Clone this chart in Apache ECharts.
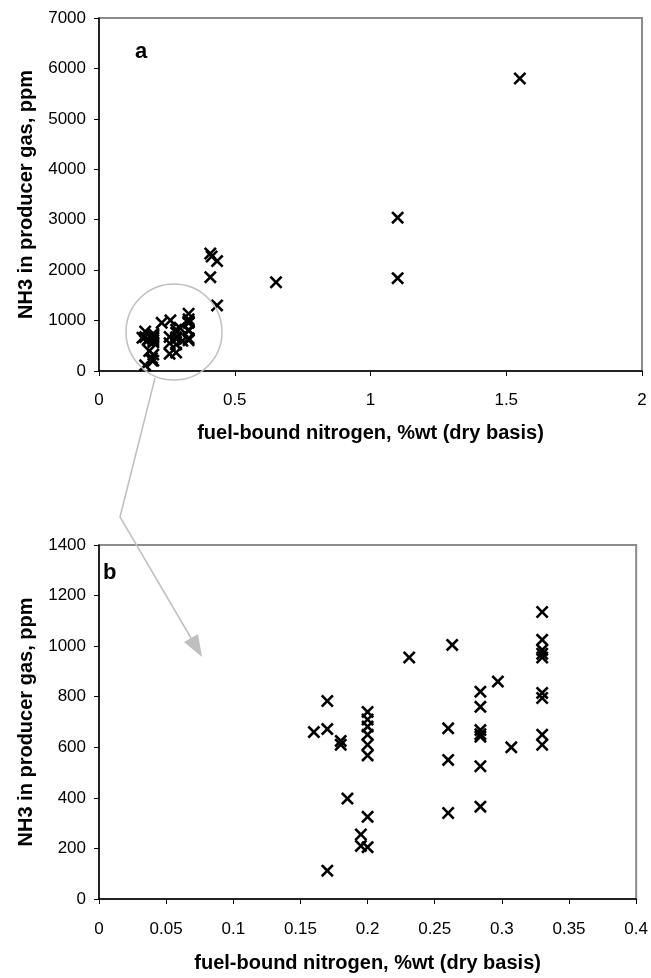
<!DOCTYPE html>
<html>
<head>
<meta charset="utf-8">
<script src="https://cdn.jsdelivr.net/npm/echarts@6/dist/echarts.min.js"></script>
<style>
  html, body { margin: 0; padding: 0; background: #fff; }
  #chart { width: 651px; height: 978px; }
</style>
</head>
<body>
<div id="chart"></div>
<script>
  // fuel-bound N (%wt) vs NH3 (ppm), low-N fuels (shown in both panels)
  const clusterPoints = [
    [0.16, 660], [0.17, 783], [0.17, 672], [0.17, 112],
    [0.18, 625], [0.18, 610], [0.185, 397],
    [0.195, 255], [0.195, 210],
    [0.2, 740], [0.2, 710], [0.2, 682], [0.2, 650], [0.2, 610], [0.2, 568], [0.2, 325], [0.2, 205],
    [0.231, 955],
    [0.26, 675], [0.26, 550], [0.26, 340], [0.263, 1005],
    [0.284, 820], [0.284, 760], [0.284, 668], [0.284, 652], [0.284, 642], [0.284, 525], [0.284, 365],
    [0.297, 860], [0.307, 600],
    [0.33, 1135], [0.33, 1025], [0.33, 985], [0.33, 970], [0.33, 955], [0.33, 815], [0.33, 795], [0.33, 650], [0.33, 610]
  ]
  // high-N fuels (only in panel a)
  const highNPoints = [
    [0.41, 2330], [0.415, 2270], [0.435, 2180], [0.41, 1860], [0.435, 1300],
    [0.652, 1760], [1.1, 3040], [1.1, 1840], [1.55, 5800]
  ]

  const xTitle = 'fuel-bound nitrogen, %wt (dry basis)'
  const yTitle = 'NH3 in producer gas, ppm'
  const font = '"Liberation Sans", Arial, sans-serif'

  // X marker, filled outline
  const crossSymbol = 'path://M0,1.7L1.7,0L6,4.3L10.3,0L12,1.7L7.7,6L12,10.3L10.3,12L6,7.7L1.7,12L0,10.3L4.3,6Z'

  const makeAxis = (min, max, interval, name, gap, rotate, labelMargin) => ({
    type: 'value',
    min: min,
    max: max,
    interval: interval,
    name: name,
    nameLocation: 'middle',
    nameGap: gap,
    nameRotate: rotate,
    nameTextStyle: { fontFamily: font, fontWeight: 'bold', fontSize: 20, color: '#000' },
    splitLine: { show: false },
    axisLine: { onZero: false, lineStyle: { color: '#000', width: 1.5 } },
    axisTick: { show: true, length: 5, lineStyle: { color: '#000', width: 1 } },
    axisLabel: {
      fontFamily: font, fontSize: 17, color: '#000', margin: labelMargin,
      formatter: v => String(v)
    }
  })

  const chart = echarts.init(document.getElementById('chart'))

  const option = {
    animation: false,
    backgroundColor: '#fff',
    grid: [
      { left: 99, top: 18, right: 9, height: 353, show: true, borderColor: '#8c8c8c', borderWidth: 2 },
      { left: 99, top: 545, right: 12, height: 354, show: true, borderColor: '#8c8c8c', borderWidth: 2 }
    ],
    xAxis: [
      Object.assign(makeAxis(0, 2, 0.5, xTitle, 52, 0, 21), { gridIndex: 0 }),
      Object.assign(makeAxis(0, 0.4, 0.05, xTitle, 54, 0, 22), { gridIndex: 1 })
    ],
    yAxis: [
      Object.assign(makeAxis(0, 7000, 1000, yTitle, 63, 90, 13), { gridIndex: 0 }),
      Object.assign(makeAxis(0, 1400, 200, yTitle, 63, 90, 13), { gridIndex: 1 })
    ],
    series: [
      {
        type: 'scatter', xAxisIndex: 0, yAxisIndex: 0,
        data: clusterPoints.concat(highNPoints),
        symbol: crossSymbol, symbolSize: 13,
        itemStyle: { color: '#000', opacity: 1 }
      },
      {
        type: 'scatter', xAxisIndex: 1, yAxisIndex: 1,
        data: clusterPoints,
        symbol: crossSymbol, symbolSize: 13,
        itemStyle: { color: '#000', opacity: 1 }
      }
    ],
    graphic: [
      { type: 'text', left: 135, top: 41, style: { text: 'a', font: 'bold 22px ' + font, fill: '#000' } },
      { type: 'text', left: 103, top: 562, style: { text: 'b', font: 'bold 22px ' + font, fill: '#000' } },
      // zoom circle and arrow
      { type: 'circle', shape: { cx: 174, cy: 332, r: 48 }, style: { fill: 'none', stroke: '#bfbfbf', lineWidth: 1.5 }, z: 10 },
      { type: 'polyline', shape: { points: [[155, 378], [120, 517], [191, 638]] }, style: { fill: 'none', stroke: '#bfbfbf', lineWidth: 1.5 }, z: 10 },
      { type: 'polygon', shape: { points: [[202, 657], [184, 642], [198, 634]] }, style: { fill: '#bfbfbf' }, z: 10 }
    ]
  }

  chart.setOption(option)
</script>
</body>
</html>
